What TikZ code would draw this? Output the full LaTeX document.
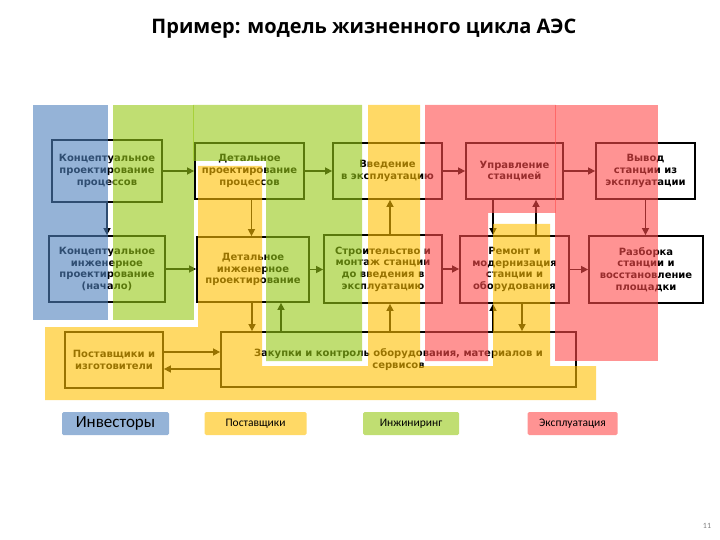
\documentclass[tikz,border=0pt]{standalone}
\usepackage{fontspec}
\setmainfont{Carlito}
\newfontfamily\boxfont{DejaVu Sans}
\newfontfamily\titlefont{Open Sans}
\usetikzlibrary{arrows.meta}
\definecolor{invblue}{RGB}{79,129,189}
\definecolor{supyellow}{RGB}{255,192,0}
\definecolor{enggreen}{RGB}{150,200,20}
\definecolor{opred}{RGB}{255,75,75}

\begin{document}
\begin{tikzpicture}[x=1pt, y=-1pt,
    stage/.style={draw, line width=1.8pt, inner sep=0pt, align=center, font=\boxfont\bfseries\fontsize{10}{11.7}\selectfont},
    arr/.style={-{Triangle[length=7pt,width=7pt]}, line width=1.5pt},
    band/.style={fill opacity=0.6},
    legend/.style={minimum height=23pt, inner sep=0pt, rounded corners=1.5pt, text=black}
]
\useasboundingbox (0,0) rectangle (720,540);

\node[font=\titlefont\bfseries\fontsize{20}{24}\selectfont] (title) at (364,29) {Пример: модель жизненного цикла АЭС};

% upper row
\node[stage, minimum width=110pt, minimum height=62pt] (kpp) at (107,171) {Концептуальное\\проектирование\\процессов};
\node[stage, minimum width=109pt, minimum height=56pt] (dpp) at (249.5,171) {Детальное\\проектирование\\процессов};
\node[stage, minimum width=109pt, minimum height=56pt] (vve) at (387.5,171) {Введение\\в эксплуатацию};
\node[stage, minimum width=97pt, minimum height=56pt] (upr) at (514.5,171) {Управление\\станцией};
\node[stage, minimum width=99pt, minimum height=56pt] (vyv) at (645.5,171) {Вывод\\станции из\\эксплуатации};

% lower row
\node[stage, minimum width=116pt, minimum height=66pt] (kip) at (107,269) {Концептуальное\\инженерное\\проектирование\\(начало)};
\node[stage, minimum width=112pt, minimum height=65pt] (dip) at (253,269.5) {Детальное\\инженерное\\проектирование};
\node[stage, minimum width=118pt, minimum height=68pt] (stm) at (383,269) {Строительство и\\монтаж станции\\до введения в\\эксплуатацию};
\node[stage, minimum width=109pt, minimum height=67pt] (rem) at (514.5,269.5) {Ремонт и\\модернизация\\станции и\\оборудования};
\node[stage, minimum width=114pt, minimum height=67pt] (raz) at (646,269.5) {Разборка\\станции и\\восстановление\\площадки};

% supply
\node[stage, minimum width=98pt, minimum height=56pt] (pst) at (114,360) {Поставщики и\\изготовители};
\node[stage, minimum width=355pt, minimum height=55pt] (zak) at (398.5,359.5) {Закупки и контроль оборудования, материалов и\\сервисов};

\draw[arr] (kpp.south) -- (kip.north);
\draw[arr] (kpp.east) -- (kpp.east -| dpp.west);
\draw[arr] (kip.east) -- (kip.east -| dip.west);
\draw[arr] ([xshift=2pt]dpp.south) -- ([xshift=2pt]dpp.south |- dip.north);
\draw[arr] (dpp.east) -- (dpp.east -| vve.west);
\draw[arr] (dip.east) -- (dip.east -| stm.west);
\draw[arr] ([xshift=-1pt]dip.south) -- ([xshift=-1pt]dip.south |- zak.north);
\draw[arr] ([xshift=28pt]dip.south |- zak.north) -- ([xshift=28pt]dip.south);
\draw[arr] ([xshift=7pt]stm.north) -- ([xshift=7pt]stm.north |- vve.south);
\draw[arr] ([xshift=7pt]stm.south |- zak.north) -- ([xshift=7pt]stm.south);
\draw[arr] (vve.east) -- (vve.east -| upr.west);
\draw[arr] (upr.east) -- (upr.east -| vyv.west);
\draw[arr] (stm.east) -- (stm.east -| rem.west);
\draw[arr] (rem.east) -- (rem.east -| raz.west);
\draw[arr] (vyv.south) -- (vyv.south |- raz.north);
\draw[arr] ([xshift=-21.5pt]upr.south) -- ([xshift=-21.5pt]upr.south |- rem.north);
\draw[arr] ([xshift=21.5pt]rem.north) -- ([xshift=21.5pt]rem.north |- upr.south);
\draw[arr] ([xshift=7.5pt]rem.south) -- ([xshift=7.5pt]rem.south |- zak.north);
\draw[arr] ([xshift=-21.5pt]rem.south |- zak.north) -- ([xshift=-21.5pt]rem.south);
\draw[arr] ([yshift=8pt]pst.east) -- ([yshift=8pt]pst.east -| zak.west);
\draw[arr] ([yshift=-9pt]pst.east -| zak.west) -- ([yshift=-9pt]pst.east);

% coloured areas over the chart
\fill[band, invblue] (33,105) rectangle (108,320);
\fill[band, enggreen] (113,105) rectangle (193.8,320);
\fill[band, enggreen] (193,105) rectangle (362,161) (266,161) rectangle (362,361);
\fill[band, supyellow] (198,166) rectangle (262,400) (368,105) rectangle (420,400)
  (493,224) rectangle (550,400) (45,327) rectangle (198,400) (45,366) rectangle (596,400);
\fill[band, opred] (425,105) rectangle (555.8,213) (425,213) rectangle (488,361);
\fill[band, opred] (555,105) rectangle (658,361);

% legend
\node[legend, fill=invblue!60, minimum width=107pt, font=\fontsize{17}{20}\selectfont] (lginv) at (115.5,423.5) {Инвесторы};
\node[legend, fill=supyellow!60, minimum width=102pt, font=\fontsize{11.5}{13}\selectfont] (lgsup) at (255.5,423.5) {Поставщики};
\node[legend, fill=enggreen!60, minimum width=96pt, font=\fontsize{11.5}{13}\selectfont] (lgeng) at (411,423.5) {Инжиниринг};
\node[legend, fill=opred!60, minimum width=90pt, font=\fontsize{11.5}{13}\selectfont] (lgop) at (572.5,423.5) {Эксплуатация};

\node[text=gray, font=\fontsize{8}{10}\selectfont] (pgno) at (707,526) {11};
\end{tikzpicture}
\end{document}
